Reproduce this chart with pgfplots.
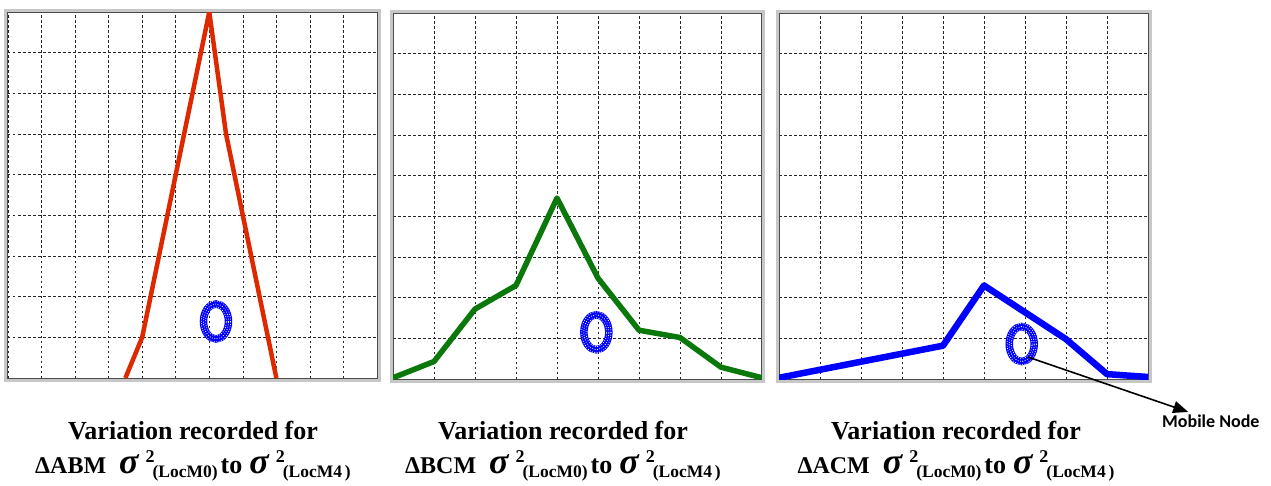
\documentclass[border=0pt]{standalone}
\usepackage{fontspec}
\setmainfont{Liberation Serif}
\newfontfamily\calib{Carlito}
\usepackage{pgfplots}
\pgfplotsset{compat=1.18}
\usetikzlibrary{arrows.meta}

% one px of the reference = 1pt here
\pgfplotsset{
  panel/.style={
    scale only axis, width=369pt, height=366pt, anchor=south west,
    xmin=0, ymin=0, ymax=9, ytick={0,...,9},
    xticklabels={}, yticklabels={},
    major tick length=0pt,
    grid=major,
    major grid style={black!85, line width=0.6pt, dash pattern=on 2.5pt off 2.5pt},
    axis line style={black!70, line width=1pt},
    clip mode=individual,
  },
  node mark/.style={only marks, mark=o, mark size=17.5pt,
    mark options={xscale=0.714, draw=blue, line width=7.5pt}},
  node lace/.style={only marks, mark=o, mark size=#1,
    mark options={xscale=0.714, draw=white, line width=1.1pt,
      line cap=round, dash pattern=on 0pt off 2.4pt}},
}
\newcommand{\frameit}{\draw[black!22, line width=3pt]
  ([xshift=-2pt,yshift=-2pt]rel axis cs:0,0) rectangle ([xshift=2pt,yshift=2pt]rel axis cs:1,1);}
\newcommand{\sig}[1]{{\fontsize{36}{36}\selectfont\itshape σ}\hspace{7pt}%
  \raisebox{11pt}{\fontsize{18}{18}\selectfont 2}\hspace{-2pt}%
  \raisebox{-4pt}{\fontsize{17.5}{18}\selectfont (#1)}}
\newcommand{\capline}[1]{{\bfseries\fontsize{24}{28}\selectfont Δ#1\hspace{13pt}\sig{LocM0}\hspace{3pt}{\fontsize{26}{28}\selectfont to}\hspace{7pt}\sig{LocM4\,}}}

\definecolor{lred}{RGB}{221,40,0}
\definecolor{lgreen}{RGB}{10,120,10}

\begin{document}
\begin{tikzpicture}
\path[use as bounding box] (0,0) rectangle (1271pt,485pt);

% Delta ABM
\begin{axis}[panel, at={(8pt,107pt)}, xmax=11, xtick={0,...,11}]
\frameit
\addplot[lred, line width=4.5pt, line join=round] coordinates {(3.5,0)(4,1)(6,9)(6.5,6)(8,0)};
\addplot[node mark] coordinates {(6.2,1.39)};
\addplot[node lace=14.5pt] coordinates {(6.2,1.39)};
\addplot[node lace=17.5pt] coordinates {(6.2,1.39)};
\addplot[node lace=20.5pt] coordinates {(6.2,1.39)};
\end{axis}

% Delta BCM
\begin{axis}[panel, at={(393pt,106pt)}, xmax=9, xtick={0,...,9}]
\frameit
\addplot[lgreen, line width=5.5pt, line join=round] coordinates {
(0,0.03)(1,0.43)(2,1.72)(3,2.3)(4,4.45)(5,2.48)(6,1.2)(7,1.02)(8,0.29)(9,0.03)};
\addplot[node mark] coordinates {(4.96,1.15)};
\addplot[node lace=14.5pt] coordinates {(4.96,1.15)};
\addplot[node lace=17.5pt] coordinates {(4.96,1.15)};
\addplot[node lace=20.5pt] coordinates {(4.96,1.15)};
\end{axis}

% Delta ACM
\begin{axis}[panel, at={(779pt,106pt)}, xmax=9, xtick={0,...,9}]
\frameit
\addplot[blue, line width=6.5pt, line join=round] coordinates {
(0,0.03)(4,0.82)(5,2.3)(7,0.98)(8,0.12)(9,0.05)};
\addplot[node mark] coordinates {(5.92,0.86)};
\addplot[node lace=14.5pt] coordinates {(5.92,0.86)};
\addplot[node lace=17.5pt] coordinates {(5.92,0.86)};
\addplot[node lace=20.5pt] coordinates {(5.92,0.86)};
\draw[-{Triangle[length=15pt,width=12pt]}, line width=1.6pt] (axis cs:6.07,0.54) -- (axis cs:9.98,-0.81);
\end{axis}

\node[anchor=base west, font=\calib\bfseries\fontsize{18}{20}\selectfont, inner sep=0pt] at (1162pt,58pt) {Mobile Node};

\foreach \cx in {193,563,956}
  \node[anchor=base, inner sep=0pt, font=\bfseries\fontsize{26}{30}\selectfont] at (\cx pt,46pt) {Variation recorded for};
\node[anchor=base, inner sep=0pt] at (193pt,12pt) {\capline{ABM}};
\node[anchor=base, inner sep=0pt] at (563pt,12pt) {\capline{BCM}};
\node[anchor=base, inner sep=0pt] at (956pt,12pt) {\capline{ACM}};
\end{tikzpicture}
\end{document}
